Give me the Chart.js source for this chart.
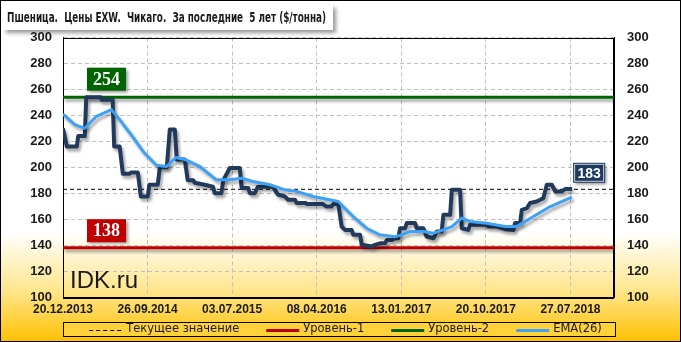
<!DOCTYPE html>
<html>
<head>
<meta charset="utf-8">
<script src="https://cdn.jsdelivr.net/npm/chart.js@4.4.1/dist/chart.umd.min.js"></script>
<style>
    body { margin: 0; background: #fff; }
    canvas { display: block; }
</style>
</head>
<body>
<canvas id="myChart" width="681" height="342"></canvas>
<script>
// Подписи оси X: недели от 20.12.2013, шаг 40 недель
const tickWeeks = [0, 40, 80, 120, 160, 200, 240];
const tickLabels = ['20.12.2013', '26.09.2014', '03.07.2015', '08.04.2016', '13.01.2017', '20.10.2017', '27.07.2018'];
const weekMax = 260.6;

// Цена ($/тонна): номер недели и значение
const priceWeeks = [0, 1.8, 6.5, 7.2, 10.3, 11, 17.8, 18.3, 23.5, 24.2, 26.8, 28.3, 31.5, 32.3, 35.4, 36.8, 40.1, 40.8, 44.8, 45.8,
    49.1, 50.5, 52.9, 53.8, 57.6, 59, 61.6, 62.3, 67, 70.9, 71.8, 74.9, 75.8, 78.9, 83.6, 84.5, 87.6, 88.4, 90.7, 92.2,
    99.3, 101.6, 104.9, 106.5, 109.7, 110.5, 114.9, 115.4, 122.9, 124.7, 127, 127.8, 130.2, 131.8, 133.4, 136.5, 137.3, 140.5, 141.3, 146.1,
    147.6, 149.9, 152.3, 153.2, 155.6, 157, 158.6, 159.4, 161.8, 162.6, 166.5, 167.3, 170.4, 172, 175.2, 176.8, 179.1, 179.9, 183.1, 183.9,
    187.8, 188.6, 191.7, 192.5, 200.4, 201.2, 205.2, 209.1, 213, 213.8, 216.2, 217, 219.4, 220.9, 224.1, 225.7, 227.2, 228.8, 231.2, 232.8,
    235.9, 237.5, 240.8];
const priceValues = [230, 216, 216, 224, 224, 254, 254, 252, 252, 216, 216, 195, 195, 196, 196, 177.5, 177.5, 186.5, 186.5, 200,
    200, 229, 229, 206, 206, 190, 190, 188, 186.5, 185, 180, 180, 190, 199.4, 199.4, 184, 184, 180, 180, 185,
    185, 179, 177.5, 175, 175, 172.4, 172.4, 171.6, 171.6, 169.7, 169.7, 171.6, 171.6, 154.3, 151.7, 151.7, 148, 148, 140.2, 139,
    140.2, 141.4, 141.4, 144, 144, 145.3, 145.3, 153, 153, 157, 157, 153, 153, 146.6, 145.3, 150.4, 150.4, 163.3, 163.3, 182.6,
    182.6, 153, 151.7, 155.6, 155.6, 154.3, 154.3, 152.3, 151.7, 157, 157, 167.2, 168.5, 172.4, 173.6, 174.9, 176.2, 186.5, 186.5, 181.4,
    181.4, 183.2, 183.2];

// EMA(26)
const emaWeeks = [0, 5.6, 10.3, 15.8, 22.9, 26.8, 31.6, 37.9, 44.2, 49, 53.4, 57.6, 64.7, 72.6, 78.9, 84.5, 89.9, 97.9, 105, 110.5,
    118.4, 130.2, 132.5, 137.3, 143.6, 149.9, 157, 159.4, 164.1, 170.4, 175.2, 179.9, 183.9, 188.6, 192.5, 200.4, 209.1, 214.6, 222.5, 230.4,
    240.7];
const emaValues = [241, 232.8, 230, 239.3, 244.4, 236.7, 226.4, 212.2, 201.5, 200.6, 207.5, 206, 200.6, 190.3, 190.3, 191.6, 189, 186.5, 182.6, 181.4,
    177.5, 173.6, 169.7, 162, 153, 147.9, 146.5, 147.5, 150.4, 150.4, 149.2, 151.7, 154.3, 160.8, 158.2, 156.9, 154.3, 154.3, 162, 169.7,
    177];

const currentValue = 183;
const level1 = 138;
const level2 = 254;

const legendOrder = ['Текущее значение', 'Уровень-1', 'Уровень-2', 'EMA(26)'];

function toPoints(xs, ys) {
    return xs.map((x, i) => ({ x, y: ys[i] }));
}

function flat(v) {
    return [{ x: 0, y: v }, { x: weekMax, y: v }];
}

// Тени у линий
const shadowPlugin = {
    id: 'shadow',
    beforeDatasetDraw(chart, args) {
        const ds = chart.data.datasets[args.index];
        if (!ds.shadowOn) return;
        const ctx = chart.ctx;
        ctx.save();
        ctx.shadowColor = 'rgba(0, 0, 0, 0.35)';
        ctx.shadowOffsetX = 2;
        ctx.shadowOffsetY = 3;
        ctx.shadowBlur = 3;
    },
    afterDatasetDraw(chart, args) {
        const ds = chart.data.datasets[args.index];
        if (ds.shadowOn) chart.ctx.restore();
    },
};

// Фон, рамка и заголовок
const backPlugin = {
    id: 'back',
    beforeDraw(chart) {
        const ctx = chart.ctx;
        const w = chart.width, h = chart.height;
        ctx.save();
        const g = ctx.createLinearGradient(0, 0, 0, h);
        g.addColorStop(0, '#ffffff');
        g.addColorStop(0.68, '#ffffff');
        g.addColorStop(0.85, '#ffe68c');
        g.addColorStop(1, '#ffc000');
        ctx.fillStyle = g;
        ctx.fillRect(0, 0, w, h);
        ctx.strokeStyle = '#000';
        ctx.lineWidth = 1;
        ctx.strokeRect(0.5, 0.5, w - 1, h - 1);

        // заголовок
        ctx.save();
        ctx.shadowColor = 'rgba(0, 0, 0, 0.4)';
        ctx.shadowOffsetX = 3;
        ctx.shadowOffsetY = 3;
        ctx.shadowBlur = 4;
        ctx.fillStyle = '#fff';
        ctx.fillRect(3, 5, 330, 25);
        ctx.restore();
        const title = 'Пшеница.  Цены EXW.  Чикаго.  За последние  5 лет ($/тонна)';
        ctx.font = 'bold 14px "DejaVu Sans"';
        const tw = ctx.measureText(title).width;
        ctx.translate(7, 21.5);
        ctx.scale(319 / tw, 1);
        ctx.fillStyle = '#1a1a1a';
        ctx.textBaseline = 'alphabetic';
        ctx.fillText(title, 0, 0);
        ctx.restore();
    },
    beforeDatasetsDraw(chart) {
        const { ctx, chartArea: a } = chart;
        ctx.save();
        ctx.strokeStyle = '#000';
        ctx.lineWidth = 1;
        ctx.strokeRect(Math.round(a.left) + 0.5, Math.round(a.top) + 0.5,
            Math.round(a.right - a.left) - 1, Math.round(a.bottom - a.top));
        ctx.restore();
    },
};

function labelBox(ctx, x, y, w, h, fill, text, font, border) {
    ctx.save();
    ctx.shadowColor = 'rgba(0, 0, 0, 0.4)';
    ctx.shadowOffsetX = 2;
    ctx.shadowOffsetY = 2;
    ctx.shadowBlur = 3;
    ctx.fillStyle = fill;
    ctx.fillRect(x, y, w, h);
    ctx.restore();
    if (border) {
        ctx.save();
        ctx.strokeStyle = border;
        ctx.lineWidth = 1;
        ctx.strokeRect(x + 1.5, y + 1.5, w - 3, h - 3);
        ctx.restore();
    }
    ctx.save();
    ctx.fillStyle = '#fff';
    ctx.font = font;
    ctx.textAlign = 'center';
    ctx.textBaseline = 'middle';
    ctx.fillText(text, x + w / 2, y + h / 2 + 1);
    ctx.restore();
}

// Подписи уровней, IDK.ru и легенда
const overlayPlugin = {
    id: 'overlay',
    afterDraw(chart) {
        const { ctx, chartArea: a, scales } = chart;
        const ys = scales.y, xs = scales.x;

        const y2 = ys.getPixelForValue(level2);
        labelBox(ctx, a.left + 24, y2 - 29.5, 39, 23, '#006400', String(level2), 'bold 18px "Liberation Serif"');
        const y1 = ys.getPixelForValue(level1);
        labelBox(ctx, a.left + 24, y1 - 28.5, 39, 23, '#c00000', String(level1), 'bold 18px "Liberation Serif"');
        const yc = ys.getPixelForValue(currentValue);
        const xc = xs.getPixelForValue(priceWeeks[priceWeeks.length - 1]);
        labelBox(ctx, xc + 1, yc - 26.5, 32, 20, '#1f3a5e', String(currentValue), 'bold 14px "Liberation Sans"', '#c8d2dc');

        ctx.save();
        ctx.fillStyle = '#1a1a1a';
        ctx.font = '24px "Liberation Sans"';
        ctx.textBaseline = 'alphabetic';
        ctx.fillText('IDK.ru', a.left + 7, 288);
        ctx.restore();

        // легенда
        const boxTop = 322, boxH = 14;
        ctx.save();
        ctx.fillStyle = '#ffd23c';
        ctx.fillRect(a.left, boxTop, a.right + 1 - a.left, boxH);
        ctx.strokeStyle = '#000';
        ctx.lineWidth = 1;
        ctx.strokeRect(Math.round(a.left) + 0.5, boxTop + 0.5, Math.round(a.right - a.left) + 1, boxH);
        ctx.font = '11.5px "DejaVu Sans"';
        ctx.textBaseline = 'middle';
        const sample = 33, gapText = 4, gapItem = 27;
        const items = legendOrder.map(l => chart.data.datasets.find(d => d.label === l));
        let total = 0;
        items.forEach((d, i) => {
            total += sample + gapText + ctx.measureText(d.label).width + (i ? gapItem : 0);
        });
        let x = (a.left + a.right) / 2 + 7 - total / 2;
        const ym = boxTop + boxH / 2 + 0.5;
        items.forEach(d => {
            ctx.save();
            ctx.strokeStyle = d.borderColor;
            ctx.lineWidth = d.borderWidth;
            ctx.setLineDash(d.borderDash || []);
            ctx.beginPath();
            ctx.moveTo(x, Math.round(ym) + (d.borderWidth % 2 ? 0.5 : 0));
            ctx.lineTo(x + sample, Math.round(ym) + (d.borderWidth % 2 ? 0.5 : 0));
            ctx.stroke();
            ctx.restore();
            x += sample + gapText;
            ctx.fillStyle = '#1a1a1a';
            ctx.fillText(d.label, x, ym);
            x += ctx.measureText(d.label).width + gapItem;
        });
        ctx.restore();
    },
};

const gridColor = '#c0c0c0';
const tickFont = { family: '"Liberation Sans"', size: 13, weight: 'bold' };

const ctx = document.getElementById('myChart').getContext('2d');
const myChart = new Chart(ctx, {
    type: 'line',
    data: {
        datasets: [
            {
                label: 'Цена',
                data: toPoints(priceWeeks, priceValues),
                borderColor: '#213a5c',
                borderWidth: 4,
                borderJoinStyle: 'round',
                pointRadius: 0,
                order: 1,
                shadowOn: true,
            },
            {
                label: 'EMA(26)',
                data: toPoints(emaWeeks, emaValues),
                borderColor: '#3da2f5',
                borderWidth: 3,
                borderJoinStyle: 'round',
                pointRadius: 0,
                order: 0,
                shadowOn: true,
            },
            {
                label: 'Текущее значение',
                data: flat(currentValue),
                borderColor: '#000',
                borderWidth: 1,
                borderDash: [4, 3],
                pointRadius: 0,
                order: 5,
            },
            {
                label: 'Уровень-1',
                data: flat(level1),
                borderColor: '#c00000',
                borderWidth: 3,
                pointRadius: 0,
                order: 4,
                shadowOn: true,
            },
            {
                label: 'Уровень-2',
                data: flat(level2),
                borderColor: '#006400',
                borderWidth: 3,
                pointRadius: 0,
                order: 3,
                shadowOn: true,
            },
        ],
    },
    options: {
        responsive: false,
        animation: false,
        events: [],
        layout: { padding: { top: 37.5, left: 0, right: 0, bottom: 25 } },
        plugins: {
            legend: { display: false },
            tooltip: { enabled: false },
        },
        scales: {
            x: {
                type: 'linear',
                min: 0,
                max: weekMax,
                afterBuildTicks: s => { s.ticks = tickWeeks.map(v => ({ value: v })); },
                afterFit: s => { s.height = 20; },
                grid: { color: gridColor, drawTicks: false },
                border: { color: '#000', dash: [4, 3] },
                ticks: {
                    autoSkip: false,
                    maxRotation: 0,
                    padding: 5,
                    color: '#1a1a1a',
                    font: { family: '"Liberation Sans"', size: 12, weight: 'bold' },
                    callback: v => tickLabels[tickWeeks.indexOf(v)],
                },
            },
            y: {
                position: 'left',
                min: 100,
                max: 300,
                afterFit: s => { s.width = 63; },
                grid: { color: gridColor, drawTicks: false },
                border: { color: '#000', dash: [4, 3] },
                ticks: { stepSize: 20, padding: 11, color: '#1a1a1a', font: tickFont },
            },
            y2: {
                position: 'right',
                min: 100,
                max: 300,
                afterFit: s => { s.width = 67; },
                grid: { drawOnChartArea: false, drawTicks: false },
                border: { color: '#000' },
                ticks: { stepSize: 20, padding: 13, color: '#1a1a1a', font: tickFont },
            },
        },
    },
    plugins: [backPlugin, shadowPlugin, overlayPlugin],
});
</script>
</body>
</html>
